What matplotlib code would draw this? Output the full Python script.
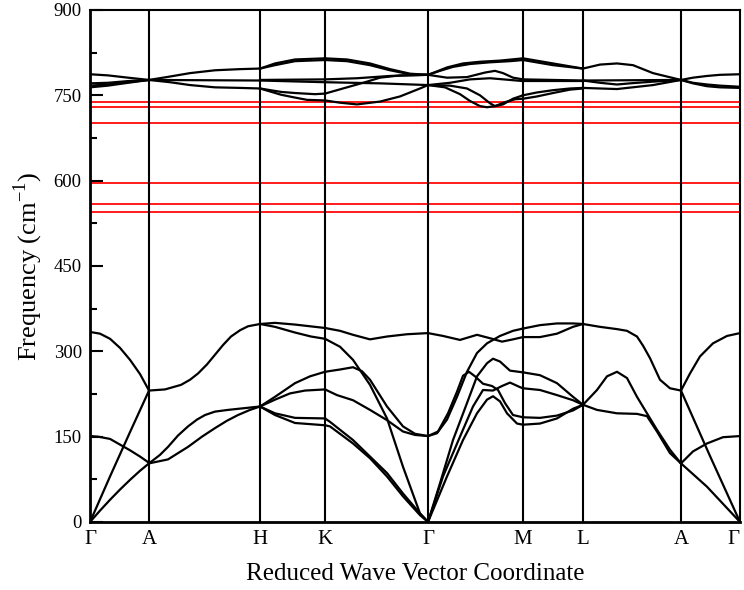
import matplotlib
matplotlib.use("Agg")
import matplotlib.pyplot as plt
from matplotlib.ticker import MultipleLocator

# high-symmetry points along the path (path length in arbitrary units)
kpoint_pos = [0, 59, 170, 235, 338, 433, 493, 591, 650]
kpoint_labels = ['Γ', 'A', 'H', 'K', 'Γ', 'M', 'L', 'A', 'Γ']

# reference frequencies shown as red horizontal lines (cm-1)
ref_freqs = [739, 729, 702, 595, 559, 544]

# phonon branches, one list of (k, freq) points per line, grouped by segment
gamma_a_low = [
    [(0, 0), (20, 80), (40, 158), (59, 231)],
    [(0, 334), (10, 331), (20, 322), (30, 306), (40, 285), (50, 260), (59, 231)],
    [(0, 0), (10, 20), (20, 39), (30, 57), (40, 74), (50, 90), (59, 103)],
    [(0, 151), (8, 150), (20, 146), (31, 135), (40, 126), (50, 115), (59, 104)],
]
a_h_low = [
    [(59, 231), (75, 233), (91, 241), (100, 250), (108, 261), (117, 277), (125, 294), (133, 311), (141, 326), (150, 337), (158, 344), (170, 348)],
    [(59, 103), (70, 118), (78, 132), (88, 152), (98, 168), (107, 180), (115, 188), (125, 194), (138, 197), (170, 203)],
    [(59, 103), (78, 110), (98, 132), (112, 150), (125, 165), (137, 178), (148, 188), (160, 197), (170, 203)],
]
h_k_low = [
    [(170, 348), (185, 350), (205, 347), (235, 341)],
    [(170, 348), (185, 343), (205, 333), (221, 326), (235, 322)],
    [(170, 203), (185, 220), (205, 244), (220, 256), (235, 264)],
    [(170, 203), (185, 215), (200, 226), (215, 231), (235, 233)],
    [(170, 203), (185, 191), (205, 183), (235, 182)],
    [(170, 203), (185, 188), (205, 174), (235, 170)],
]
k_gamma_low = [
    [(235, 341), (250, 336), (263, 329), (280, 321), (297, 326), (317, 330), (338, 332)],
    [(235, 322), (250, 308), (263, 285), (280, 241), (297, 182), (313, 97), (330, 15), (338, 0)],
    [(235, 264), (250, 268), (263, 272), (272, 265), (280, 250), (297, 203), (313, 168), (325, 155), (338, 151)],
    [(235, 233), (247, 223), (263, 214), (280, 197), (297, 179), (313, 159), (325, 153), (338, 151)],
    [(235, 182), (240, 176), (263, 144), (280, 115), (297, 86), (313, 50), (330, 15), (338, 0)],
    [(235, 170), (240, 168), (263, 138), (280, 112), (297, 80), (313, 45), (330, 12), (338, 0)],
]
gamma_m_low = [
    [(338, 332), (353, 327), (370, 320), (387, 329), (400, 323), (412, 317), (423, 321), (433, 325)],
    [(338, 151), (347, 156), (357, 180), (367, 220), (377, 264), (387, 297), (397, 314), (410, 327), (423, 336), (433, 340)],
    [(338, 151), (348, 159), (358, 191), (367, 229), (373, 257), (379, 264), (385, 256), (393, 243), (402, 239), (408, 232), (415, 209), (423, 188), (433, 184)],
    [(338, 0), (350, 68), (363, 144), (377, 209), (387, 256), (397, 279), (403, 287), (410, 282), (420, 266), (433, 263)],
    [(338, 0), (353, 80), (370, 150), (383, 203), (393, 232), (403, 231), (412, 239), (420, 245), (430, 237), (433, 235)],
    [(338, 0), (357, 80), (373, 144), (387, 191), (397, 215), (403, 221), (410, 212), (417, 191), (427, 173), (433, 171)],
]
m_l_low = [
    [(433, 340), (450, 346), (467, 349), (483, 349), (493, 348)],
    [(433, 325), (450, 325), (467, 331), (483, 343), (493, 348)],
    [(433, 263), (450, 258), (467, 244), (483, 220), (493, 206)],
    [(433, 235), (450, 232), (467, 223), (483, 214), (493, 206)],
    [(433, 184), (450, 183), (467, 187), (483, 196), (493, 206)],
    [(433, 171), (450, 173), (467, 182), (483, 199), (493, 206)],
]
l_a_low = [
    [(493, 348), (510, 343), (527, 339), (537, 336), (547, 326), (553, 310), (560, 288), (570, 250), (580, 235), (591, 231)],
    [(493, 206), (507, 232), (517, 256), (527, 264), (537, 253), (547, 220), (557, 191), (567, 162), (580, 127), (591, 103)],
    [(493, 206), (507, 197), (527, 191), (547, 190), (557, 186), (567, 159), (580, 121), (591, 103)],
]
a_gamma_low = [
    [(591, 231), (600, 261), (610, 291), (623, 314), (637, 327), (650, 332)],
    [(591, 231), (620, 116), (650, 0)],
    [(591, 103), (603, 124), (617, 138), (633, 149), (650, 151)],
    [(591, 103), (617, 62), (650, 0)],
]

gamma_a_high = [
    [(0, 787), (18, 785), (38, 781), (59, 777)],
    [(0, 771), (18, 772), (38, 775), (59, 777)],
    [(0, 767), (18, 769), (38, 773), (59, 777)],
    [(0, 764), (18, 767), (38, 772), (59, 777)],
]
a_h_high = [
    [(59, 777), (80, 783), (100, 789), (125, 794), (150, 796), (170, 797)],
    [(59, 777), (170, 776)],
    [(59, 777), (80, 773), (100, 768), (125, 764), (150, 763), (170, 762)],
]
h_k_high = [
    [(170, 797), (185, 806), (205, 813), (235, 815)],
    [(170, 797), (185, 803), (205, 810), (235, 812)],
    [(170, 777), (235, 778)],
    [(170, 776), (235, 773)],
    [(170, 762), (191, 756), (205, 754), (225, 752), (235, 753)],
    [(170, 762), (191, 751), (205, 746), (217, 742), (235, 741)],
]
k_gamma_high = [
    [(235, 815), (257, 813), (280, 806), (300, 796), (320, 788), (338, 786)],
    [(235, 812), (257, 810), (280, 803), (300, 794), (320, 787), (338, 786)],
    [(235, 778), (267, 780), (300, 784), (338, 786)],
    [(235, 753), (257, 764), (277, 774), (290, 781), (310, 785), (338, 786)],
    [(235, 773), (290, 771), (338, 768)],
    [(235, 741), (250, 737), (267, 734), (290, 739), (310, 748), (330, 762), (338, 768)],
]
gamma_m_high = [
    [(338, 786), (347, 792), (357, 799), (373, 806), (390, 809), (410, 811), (433, 815)],
    [(338, 786), (350, 793), (363, 800), (380, 805), (400, 808), (420, 810), (433, 812)],
    [(338, 786), (357, 781), (377, 782), (395, 790), (405, 793), (413, 789), (423, 781), (433, 778)],
    [(338, 768), (360, 772), (380, 778), (400, 780), (420, 777), (433, 775)],
    [(338, 768), (355, 764), (370, 752), (380, 740), (390, 731), (397, 729), (405, 731), (415, 738), (425, 743), (433, 744)],
    [(338, 768), (360, 767), (377, 762), (390, 750), (400, 736), (405, 731), (413, 734), (423, 744), (433, 750)],
]
m_l_high = [
    [(433, 815), (463, 806), (493, 797)],
    [(433, 812), (463, 803), (493, 797)],
    [(433, 778), (463, 777), (493, 776)],
    [(433, 775), (463, 775), (493, 775)],
    [(433, 750), (447, 755), (463, 759), (480, 762), (493, 763)],
    [(433, 744), (447, 748), (463, 754), (480, 760), (493, 762)],
]
l_a_high = [
    [(493, 797), (510, 804), (527, 806), (543, 803), (563, 789), (591, 777)],
    [(493, 776), (510, 772), (527, 769), (540, 771), (563, 774), (591, 777)],
    [(493, 776), (591, 777)],
    [(493, 763), (527, 761), (563, 768), (591, 777)],
]
a_gamma_high = [
    [(591, 777), (603, 781), (617, 784), (630, 786), (650, 787)],
    [(591, 777), (603, 772), (617, 769), (630, 767), (650, 765)],
    [(591, 777), (603, 771), (617, 766), (630, 764), (650, 763)],
]

segments = [gamma_a_low, a_h_low, h_k_low, k_gamma_low, gamma_m_low, m_l_low, l_a_low, a_gamma_low,
            gamma_a_high, a_h_high, h_k_high, k_gamma_high, gamma_m_high, m_l_high, l_a_high, a_gamma_high]

plt.rcParams['font.family'] = ['Liberation Serif', 'DejaVu Serif']

fig = plt.figure(figsize=(7.44, 5.90), dpi=100)
ax = fig.add_axes([0.121, 0.1153, 0.8736, 0.8678])

for f in ref_freqs:
    ax.axhline(f, color='#ff1a1a', lw=1.4, zorder=1)

for k in kpoint_pos[1:-1]:
    ax.axvline(k, color='black', lw=1.5, zorder=2)

for seg in segments:
    for branch in seg:
        xs = [p[0] for p in branch]
        ys = [p[1] for p in branch]
        ax.plot(xs, ys, color='black', lw=1.6, zorder=3, solid_joinstyle='round')

ax.set_xlim(kpoint_pos[0], kpoint_pos[-1])
ax.set_ylim(0, 900)
ax.set_xticks(kpoint_pos)
ax.set_xticklabels(kpoint_labels, fontsize=15)
ax.get_xticklabels()[-1].set_horizontalalignment('right')
ax.tick_params(axis='x', length=0, pad=6)
ax.yaxis.set_major_locator(MultipleLocator(150))
ax.yaxis.set_minor_locator(MultipleLocator(75))
ax.tick_params(axis='y', which='major', direction='in', length=9, width=1.5, labelsize=13.5, pad=6)
ax.tick_params(axis='y', which='minor', direction='in', length=5, width=1.5)

for side in ['left', 'bottom']:
    ax.spines[side].set_linewidth(2.0)
for side in ['top', 'right']:
    ax.spines[side].set_linewidth(1.5)

ax.set_xlabel('Reduced Wave Vector Coordinate', fontsize=18, labelpad=10)
ax.set_ylabel('Frequency (cm$^{\\mathregular{-1}}$)', fontsize=19, labelpad=6)

plt.savefig('out.png', dpi=100)
